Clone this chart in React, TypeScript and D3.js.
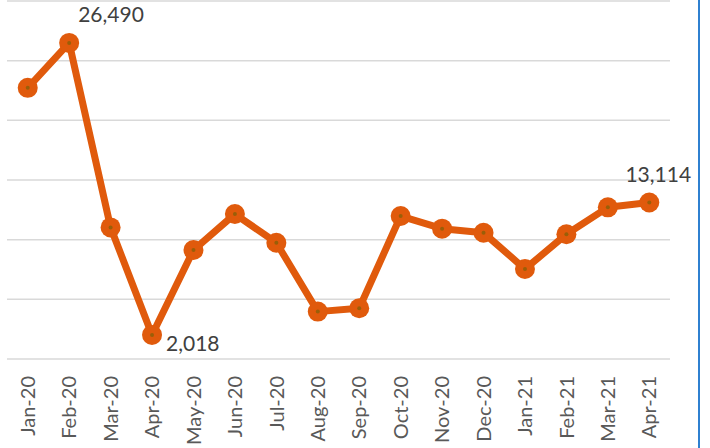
import React, { useRef, useEffect } from "react";
import * as d3 from "d3";

const months = [
  "Jan-20", "Feb-20", "Mar-20", "Apr-20", "May-20", "Jun-20", "Jul-20", "Aug-20",
  "Sep-20", "Oct-20", "Nov-20", "Dec-20", "Jan-21", "Feb-21", "Mar-21", "Apr-21",
];
const values = [
  22720, 26490, 11030, 2018, 9130, 12150, 9745, 3970,
  4250, 11980, 10920, 10580, 7540, 10450, 12710, 13114,
];
const yTicks = [0, 5000, 10000, 15000, 20000, 25000, 30000];

// labelled points: index, dx, dy from the marker
const labelled = [
  { i: 1, dx: 9, dy: -21, anchor: "start" },
  { i: 3, dx: 14, dy: 16, anchor: "start" },
  { i: 15, dx: 9, dy: -21, anchor: "middle" },
];

const App = () => {
  const svgRef = useRef<SVGSVGElement>(null);

  useEffect(() => {
    const svg = d3.select(svgRef.current);
    svg.selectAll("*").remove();

    const width = 710;
    const height = 448;
    const left = 7;
    const right = 670;

    const x = d3.scaleBand().domain(months).range([left, right]);
    const y = d3.scaleLinear().domain([0, 30000]).range([359, 1]);
    const cx = (d: string) => (x(d) as number) + x.bandwidth() / 2;

    // gridlines
    svg
      .append("g")
      .selectAll("line")
      .data(yTicks)
      .join("line")
      .attr("x1", left)
      .attr("x2", right)
      .attr("y1", (d) => y(d))
      .attr("y2", (d) => y(d))
      .attr("stroke", "#d9d9d9")
      .attr("stroke-width", 1.5);

    // month labels
    svg
      .append("g")
      .selectAll("text")
      .data(months)
      .join("text")
      .attr("transform", (d) => `translate(${cx(d)},${y(0) + 17}) rotate(-90)`)
      .attr("text-anchor", "end")
      .attr("dy", "0.36em")
      .attr("font-family", "Lato, sans-serif")
      .attr("font-size", 20)
      .attr("fill", "#595959")
      .text((d) => d);

    const pts = months.map((m, i) => ({ m, v: values[i] }));

    const line = d3
      .line<{ m: string; v: number }>()
      .x((d) => cx(d.m))
      .y((d) => y(d.v));

    svg
      .append("path")
      .datum(pts)
      .attr("d", line)
      .attr("fill", "none")
      .attr("stroke", "#e05a0c")
      .attr("stroke-width", 7)
      .attr("stroke-linejoin", "round");

    svg
      .append("g")
      .selectAll("circle")
      .data(pts)
      .join("circle")
      .attr("cx", (d) => cx(d.m))
      .attr("cy", (d) => y(d.v))
      .attr("r", 10)
      .attr("fill", "#e05a0c");

    svg
      .append("g")
      .selectAll("circle")
      .data(pts)
      .join("circle")
      .attr("cx", (d) => cx(d.m))
      .attr("cy", (d) => y(d.v))
      .attr("r", 2)
      .attr("fill", "#9a5e08");

    // data labels
    svg
      .append("g")
      .selectAll("text")
      .data(labelled)
      .join("text")
      .attr("x", (d) => cx(months[d.i]) + d.dx)
      .attr("y", (d) => y(values[d.i]) + d.dy)
      .attr("text-anchor", (d) => d.anchor)
      .attr("font-family", "Lato, sans-serif")
      .attr("font-size", 21)
      .attr("fill", "#404040")
      .text((d) => d3.format(",")(values[d.i]));

    // right border
    svg
      .append("line")
      .attr("x1", 699)
      .attr("x2", 699)
      .attr("y1", 0)
      .attr("y2", height)
      .attr("stroke", "#2f80d0")
      .attr("stroke-width", 2);

    svg.attr("width", width).attr("height", height);
  }, []);

  return (
    <svg
      ref={svgRef}
      style={{ position: "fixed", left: 0, top: 0, background: "#fff" }}
    ></svg>
  );
};

export default App;
